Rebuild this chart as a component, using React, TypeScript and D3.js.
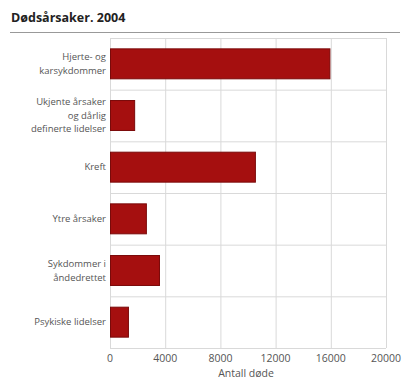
import React from "react";
import * as d3 from "d3";

const categories: string[][] = [
  ["Hjerte- og", "karsykdommer"],
  ["Ukjente årsaker", "og dårlig", "definerte lidelser"],
  ["Kreft"],
  ["Ytre årsaker"],
  ["Sykdommer i", "åndedrettet"],
  ["Psykiske lidelser"],
];
const values: number[] = [15900, 1750, 10500, 2600, 3550, 1300];
const ticks: number[] = [0, 4000, 8000, 12000, 16000, 20000];
const title = "Dødsårsaker. 2004";
const xTitle = "Antall døde";

export default function App() {
  const W = 404, H = 383;
  const left = 110, right = 386, top = 38, bottom = 348;
  const x = d3.scaleLinear().domain([0, 20000]).range([left, right]);
  const idx = categories.map((_, i) => String(i));
  const y = d3.scaleBand().domain(idx).range([top, bottom]).paddingInner(0.42).paddingOuter(0.21);
  const step = y.step();
  const font = "'Open Sans', 'DejaVu Sans', sans-serif";
  const grid = "#d9d9d9";
  const txt = "#555";
  return (
    <svg width={W} height={H} style={{ position: "absolute", left: 0, top: 0 }} fontFamily={font}>
      <rect width={W} height={H} fill="#fff" />
      <text x={11} y={22} fontSize={12.5} fontWeight="bold" fill="#222">{title}</text>
      <line x1={10} x2={400} y1={32.5} y2={32.5} stroke="#999" strokeWidth={1} />
      {ticks.map((t) => (
        <line key={"v" + t} x1={x(t) + 0.5} x2={x(t) + 0.5} y1={top} y2={bottom} stroke={grid} />
      ))}
      {d3.range(categories.length + 1).map((i) => (
        <line key={"h" + i} x1={left} x2={right} y1={top + i * step + 0.5} y2={top + i * step + 0.5} stroke={grid} />
      ))}
      {values.map((v, i) => (
        <rect key={"b" + i} x={x(0) + 0.5} y={y(String(i))!} width={x(v) - x(0)} height={y.bandwidth()}
          fill="#a50f0f" stroke="#7a0a0a" strokeWidth={1} />
      ))}
      {categories.map((lines, i) => {
        const cy = top + i * step + step / 2;
        const lh = 13.5;
        const y0 = cy - ((lines.length - 1) * lh) / 2;
        return (
          <text key={"c" + i} x={left - 4} textAnchor="end" fontSize={9.5} fill={txt}>
            {lines.map((l, j) => (
              <tspan key={j} x={left - 4} y={y0 + j * lh} dy="0.35em">{l}</tspan>
            ))}
          </text>
        );
      })}
      {ticks.map((t) => (
        <text key={"t" + t} x={x(t)} y={362} textAnchor="middle" fontSize={10.5} fill={txt}>{t}</text>
      ))}
      <text x={(left + right) / 2 - 2} y={377} textAnchor="middle" fontSize={10.5} fill={txt}>{xTitle}</text>
    </svg>
  );
}
